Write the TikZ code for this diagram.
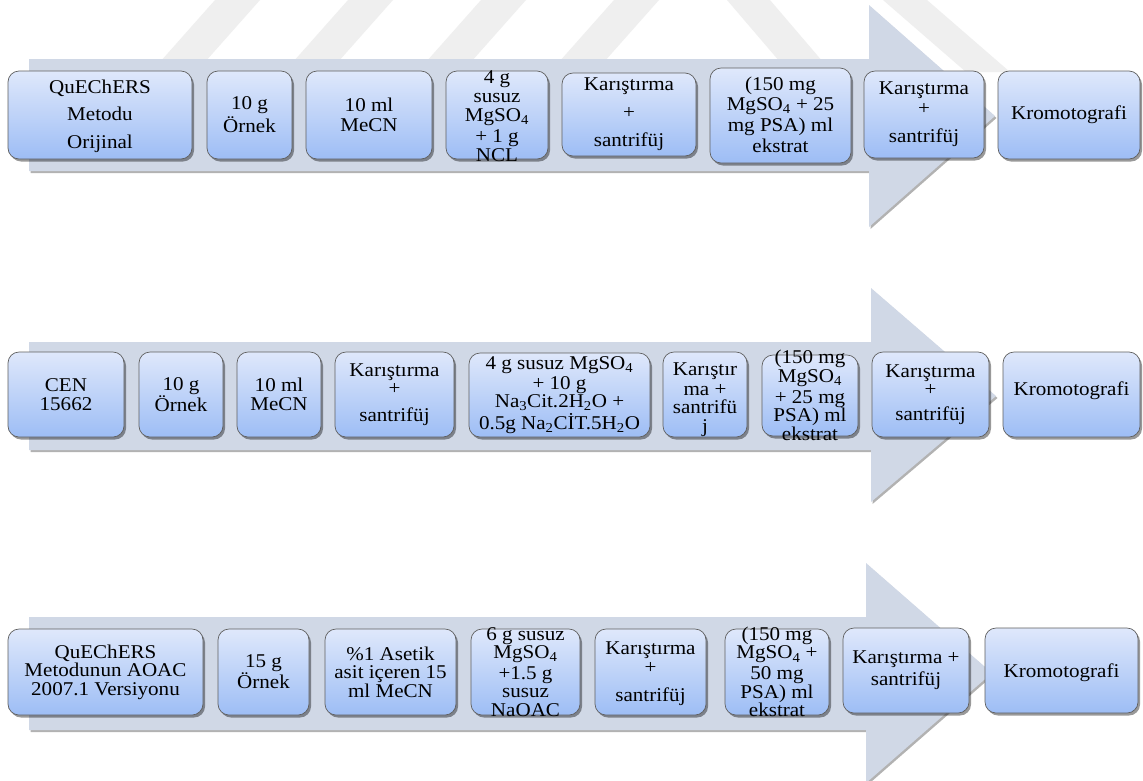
\documentclass[tikz,border=0pt]{standalone}
\usepackage{fontspec}
\setmainfont{Liberation Serif}[FakeStretch=1.08]
\usetikzlibrary{shadows,fit,calc}
\definecolor{arrowc}{HTML}{D0D8E6}
\definecolor{boxtop}{HTML}{DFE8FB}
\definecolor{boxbot}{HTML}{9DBDF5}
\definecolor{boxline}{HTML}{5F5F5F}
\definecolor{wm}{HTML}{EFEFEF}
\newcommand\pbox[7]{%
  \node[stepbox, fit={(#2,#3) (#4,#5)}] (#1) {};
  \node[txt] (#1t) at ($(#1.center)+(0,#6)$) {#7};
}
\begin{document}
\begin{tikzpicture}[x=1pt,y=-1pt,
  band/.style={fill=wm, draw=none},
  bigarrow/.style={fill=arrowc, draw=none, drop shadow={shadow xshift=1.5pt, shadow yshift=-2pt, fill=black, opacity=0.3}},
  stepbox/.style={rounded corners=11pt, draw=boxline, line width=0.7pt, top color=boxtop, bottom color=boxbot, inner sep=0pt, drop shadow={shadow xshift=2pt, shadow yshift=-2.5pt, fill=black, opacity=0.4}},
  txt/.style={align=center, inner sep=0pt, font=\fontsize{19.5}{18.5}\selectfont, text=black}
]
\fill[white] (0,0) rectangle (1143,780);
\useasboundingbox (0,0) rectangle (1143,780);

% watermark stripes
\foreach \b in {160,293,426,559}
  \fill[band] (\b,62) -- (\b+45,62) -- (\b+100,0) -- (\b+55,0) -- cycle;
\fill[band] (727,0) -- (770,0) -- (823,62) -- (780,62) -- cycle;
\fill[band] (883,0) -- (927,0) -- (1010,72) -- (966,72) -- cycle;

% big arrows
\fill[bigarrow] (29,59) -- (869,59) -- (869,5) -- (995,116) -- (869,227) -- (869,171) -- (29,171) -- cycle;
\fill[bigarrow] (29,342) -- (871,342) -- (871,288) -- (996,396) -- (871,502) -- (871,450) -- (29,450) -- cycle;
\fill[bigarrow] (29,617) -- (866,617) -- (866,563) -- (992,673) -- (866,783) -- (866,730) -- (29,730) -- cycle;

% row 1
\pbox{a1}{8}{71}{192}{159}{1}{QuEChERS\\[9pt]Metodu\\[9pt]Orijinal}
\pbox{a2}{207}{71}{292}{159}{0}{10 g\\[2pt]Örnek}
\pbox{a3}{306}{71}{432}{159}{0}{10 ml\\[2pt]MeCN}
\pbox{a4}{446}{71}{548}{159}{1}{4 g\\[0.5pt]susuz\\[0.5pt]MgSO\textsubscript{4}\\[2pt]+ 1 g\\[0.5pt]NCL}
\pbox{a5}{562}{73}{696}{156}{0}{Karıştırma\\[9.5pt]+\\[9.5pt]santrifüj}
\pbox{a6}{710}{68}{851}{163}{-1}{(150 mg\\[2pt]MgSO\textsubscript{4} + 25\\[2.5pt]mg PSA) ml\\[2pt]ekstrat}
\pbox{a7}{864}{71}{984}{158}{0}{Karıştırma\\[1.5pt]+\\[9.5pt]santrifüj}
\pbox{a8}{998}{71}{1140}{159}{0}{Kromotografi}

% row 2
\pbox{b1}{8}{352}{124}{437}{0}{CEN\\15662}
\pbox{b2}{139}{352}{223}{437}{0}{10 g\\Örnek}
\pbox{b3}{237}{352}{321}{437}{0}{10 ml\\MeCN}
\pbox{b4}{335}{352}{454}{437}{0}{Karıştırma\\+\\[8.5pt]santrifüj}
\pbox{b5}{469}{353}{650}{437}{0}{4 g susuz MgSO\textsubscript{4}\\[1pt]+ 10 g\\Na\textsubscript{3}Cit.2H\textsubscript{2}O +\\[1pt]0.5g Na\textsubscript{2}CİT.5H\textsubscript{2}O}
\pbox{b6}{663}{352}{747}{437}{5}{Karıştır\\[1.5pt]ma +\\santrifü\\j}
\pbox{b7}{762}{355}{858}{436}{0}{(150 mg\\MgSO\textsubscript{4}\\[2.5pt]+ 25 mg\\PSA) ml\\ekstrat}
\pbox{b8}{872}{352}{989}{437}{0}{Karıştırma\\+\\[6.5pt]santrifüj}
\pbox{b9}{1003}{352}{1140}{437}{-4}{Kromotografi}

% row 3
\pbox{c1}{8}{629}{203}{715}{0}{QuEChERS\\Metodunun AOAC\\2007.1 Versiyonu}
\pbox{c2}{218}{629}{309}{715}{0}{15 g\\Örnek}
\pbox{c3}{325}{629}{456}{715}{0}{\%1 Asetik\\asit içeren 15\\ml MeCN}
\pbox{c4}{471}{629}{580}{715}{0}{6 g susuz\\MgSO\textsubscript{4}\\[2pt]+1.5 g\\susuz\\NaOAC}
\pbox{c5}{595}{629}{706}{715}{2}{Karıştırma\\+\\[10pt]santrifüj}
\pbox{c6}{725}{629}{829}{715}{0}{(150 mg\\MgSO\textsubscript{4} +\\[2.5pt]50 mg\\PSA) ml\\ekstrat}
\pbox{c7}{843}{628}{969}{713}{0}{Karıştırma +\\[3.5pt]santrifüj}
\pbox{c8}{985}{628}{1138}{713}{2}{Kromotografi}
\end{tikzpicture}
\end{document}
